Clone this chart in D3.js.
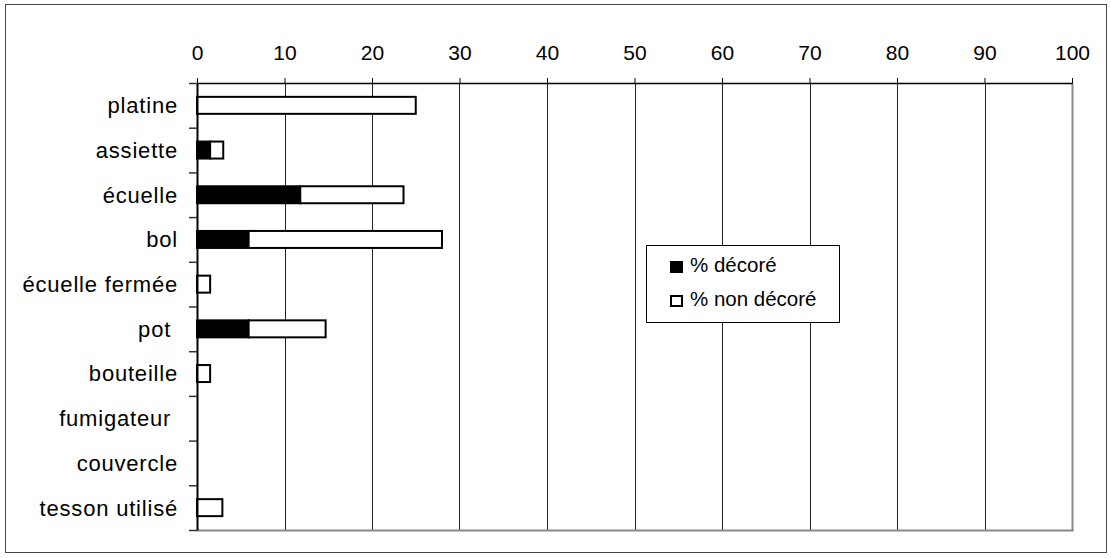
<!DOCTYPE html>
<html>
<head>
<meta charset="utf-8">
<script src="https://cdn.jsdelivr.net/npm/d3@7"></script>
<style>
  html, body { margin: 0; padding: 0; background: #fff; }
  svg { display: block; font-family: "Liberation Sans", Arial, sans-serif; }
  text { white-space: pre; }
</style>
</head>
<body>
<svg id="chart" width="1111" height="558"></svg>
<script>
const categories = ["platine", "assiette", "écuelle", "bol", "écuelle fermée", "pot ", "bouteille", "fumigateur ", "couvercle", "tesson utilisé"];
const decore     = [0, 1.5, 11.8, 5.9, 0, 5.9, 0, 0, 0, 0];
const nonDecore  = [25, 1.5, 11.8, 22.1, 1.5, 8.8, 1.5, 0, 0, 2.9];
const seriesNames = ["% décoré", "% non décoré"];
const seriesFills = ["#000000", "#ffffff"];
const xTicks = [0, 10, 20, 30, 40, 50, 60, 70, 80, 90, 100];

(function () {
const svg = d3.select("#chart");
const pL = 197, pR = 1072, pT = 83, pB = 530;
const FONT = "Liberation Sans, Arial, sans-serif";

// outer frame
svg.append("rect").attr("x", 5.5).attr("y", 4.5).attr("width", 1101).attr("height", 548)
  .attr("fill", "#fff").attr("stroke", "#444").attr("stroke-width", 1);

const x = d3.scaleLinear().domain([0, 100]).range([pL, pR]);
const y = d3.scaleBand().domain(categories).range([pT, pB]).paddingInner(0.62).paddingOuter(0.31);
const yIdx = d3.scaleLinear().domain([0, categories.length]).range([pT, pB]);

// vertical gridlines
svg.append("g").selectAll("line").data(xTicks.slice(1, -1)).join("line")
  .attr("x1", d => Math.round(x(d)) + 0.5).attr("x2", d => Math.round(x(d)) + 0.5)
  .attr("y1", pT).attr("y2", pB)
  .attr("stroke", "#222").attr("stroke-width", 1);

// right border & bottom border (gray)
svg.append("line").attr("x1", pR + 0.5).attr("x2", pR + 0.5).attr("y1", pT).attr("y2", pB + 1)
  .attr("stroke", "#888").attr("stroke-width", 2);
svg.append("line").attr("x1", pL).attr("x2", pR + 1.5).attr("y1", pB + 0.5).attr("y2", pB + 0.5)
  .attr("stroke", "#888").attr("stroke-width", 2);

// stacked bars
const rows = categories.map((c, i) => ({ cat: c, d: decore[i], n: nonDecore[i] }));
const stack = d3.stack().keys(["d", "n"])(rows);
const gBars = svg.append("g");
stack.forEach((layer, li) => {
  gBars.append("g").selectAll("rect").data(layer.filter(s => s[1] - s[0] > 0)).join("rect")
    .attr("x", s => x(s[0]))
    .attr("y", s => y(s.data.cat))
    .attr("width", s => x(s[1]) - x(s[0]))
    .attr("height", y.bandwidth())
    .attr("fill", seriesFills[li])
    .attr("stroke", "#000").attr("stroke-width", 2);
});

// top axis
const xAxis = d3.axisTop(x).tickValues(xTicks).tickSize(5).tickPadding(18).tickSizeOuter(0);
const gx = svg.append("g").attr("transform", `translate(0,${pT})`).call(xAxis);
gx.select(".domain").attr("stroke", "#000").attr("stroke-width", 1.5);
gx.selectAll(".tick line").attr("stroke", "#000");
gx.selectAll("text").attr("font-size", 21).attr("fill", "#000").attr("font-family", FONT);

// left axis: ticks at band boundaries
const gyTicks = svg.append("g").attr("transform", `translate(${pL},0)`)
  .call(d3.axisLeft(yIdx).tickValues(d3.range(0, categories.length + 1)).tickSize(8).tickFormat("").tickSizeOuter(0));
gyTicks.select(".domain").attr("stroke", "#000").attr("stroke-width", 2);
gyTicks.selectAll(".tick line").attr("stroke", "#333").attr("stroke-width", 1.5);

// left axis labels
const gy = svg.append("g").attr("transform", `translate(${pL},0)`)
  .call(d3.axisLeft(y).tickSize(0).tickPadding(19));
gy.select(".domain").remove();
gy.selectAll("text").attr("font-size", 22).attr("letter-spacing", 0.8).attr("fill", "#000")
  .attr("font-family", FONT).attr("dy", "0.36em");

// legend
const lg = svg.append("g");
lg.append("rect").attr("x", 646.5).attr("y", 245.5).attr("width", 193).attr("height", 77)
  .attr("fill", "#fff").attr("stroke", "#000").attr("stroke-width", 1);
seriesNames.forEach((name, i) => {
  const yy = 261 + i * 34;
  lg.append("rect").attr("x", 671).attr("y", yy + 1).attr("width", 11).attr("height", 10)
    .attr("fill", seriesFills[i]).attr("stroke", "#000").attr("stroke-width", 2);
  lg.append("text").attr("x", 690).attr("y", yy + 11).attr("font-size", 20.5).attr("fill", "#000")
    .attr("font-family", FONT).text(name);
});
})();
</script>
</body>
</html>
